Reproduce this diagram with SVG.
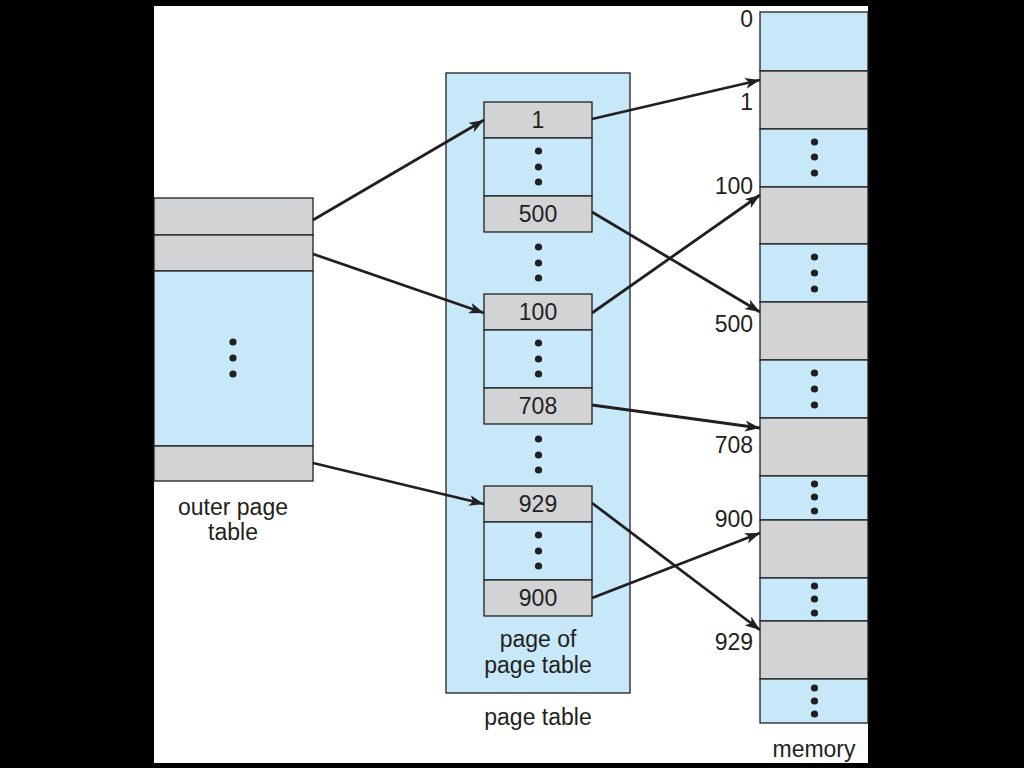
<svg xmlns="http://www.w3.org/2000/svg" width="1024" height="768" viewBox="0 0 1024 768">
<defs>
<style>
.blue{fill:#c7e8f8;stroke:#231f20;stroke-width:1.3}
.gray{fill:#d1d3d4;stroke:#231f20;stroke-width:1.3}
.t{font-family:"Liberation Sans",Arial,sans-serif;font-size:23px;fill:#231f20}
.c{text-anchor:middle}
.r{text-anchor:end}
.dot{fill:#231f20}
.conn line{stroke:#231f20;stroke-width:2.8;marker-end:url(#ah)}
</style>
<marker id="ah" markerUnits="userSpaceOnUse" markerWidth="18" markerHeight="12" refX="15" refY="5.5" orient="auto">
<path d="M0,0 L15,5.5 L0,11 L4,5.5 z" fill="#231f20"/>
</marker>
</defs>
<rect x="0" y="0" width="1024" height="768" fill="#000"/>
<rect x="154" y="6" width="714" height="757" fill="#fff"/>

<g id="outer-page-table">
<rect class="gray" x="154" y="198" width="159" height="37"/>
<rect class="gray" x="154" y="235" width="159" height="36"/>
<rect class="blue" x="154" y="271" width="159" height="175"/>
<rect class="gray" x="154" y="446" width="159" height="35"/>
<circle class="dot" cx="233" cy="342" r="3.6"/>
<circle class="dot" cx="233" cy="358" r="3.6"/>
<circle class="dot" cx="233" cy="374" r="3.6"/>
<text class="t c" x="233" y="515">outer page</text>
<text class="t c" x="233" y="540">table</text>
</g>

<g id="page-table">
<rect class="blue" x="446" y="73" width="184" height="620"/>
<text class="t c" x="538" y="725">page table</text>
</g>

<g id="page-of-page-table-1">
<rect class="gray" x="484" y="102" width="108" height="36"/>
<rect class="blue" x="484" y="138" width="108" height="58"/>
<rect class="gray" x="484" y="196" width="108" height="36"/>
<text class="t c" x="538" y="128">1</text>
<circle class="dot" cx="538.5" cy="151" r="3.6"/>
<circle class="dot" cx="538.5" cy="167" r="3.6"/>
<circle class="dot" cx="538.5" cy="182" r="3.6"/>
<text class="t c" x="538" y="222">500</text>
</g>
<g id="pt-dots-1">
<circle class="dot" cx="538.5" cy="247" r="3.6"/>
<circle class="dot" cx="538.5" cy="263" r="3.6"/>
<circle class="dot" cx="538.5" cy="278" r="3.6"/>
</g>

<g id="page-of-page-table-2">
<rect class="gray" x="484" y="294" width="108" height="36"/>
<rect class="blue" x="484" y="330" width="108" height="58"/>
<rect class="gray" x="484" y="388" width="108" height="36"/>
<text class="t c" x="538" y="320">100</text>
<circle class="dot" cx="538.5" cy="343" r="3.6"/>
<circle class="dot" cx="538.5" cy="359" r="3.6"/>
<circle class="dot" cx="538.5" cy="374" r="3.6"/>
<text class="t c" x="538" y="414">708</text>
</g>
<g id="pt-dots-2">
<circle class="dot" cx="538.5" cy="439" r="3.6"/>
<circle class="dot" cx="538.5" cy="455" r="3.6"/>
<circle class="dot" cx="538.5" cy="470" r="3.6"/>
</g>

<g id="page-of-page-table-3">
<rect class="gray" x="484" y="486" width="108" height="36"/>
<rect class="blue" x="484" y="522" width="108" height="58"/>
<rect class="gray" x="484" y="580" width="108" height="36"/>
<text class="t c" x="538" y="512">929</text>
<circle class="dot" cx="538.5" cy="535" r="3.6"/>
<circle class="dot" cx="538.5" cy="551" r="3.6"/>
<circle class="dot" cx="538.5" cy="566" r="3.6"/>
<text class="t c" x="538" y="606">900</text>
<text class="t c" x="538" y="647">page of</text>
<text class="t c" x="538" y="673">page table</text>
</g>

<g id="memory">
<rect class="blue" x="760" y="12" width="108" height="59"/>
<rect class="gray" x="760" y="71" width="108" height="58"/>
<rect class="blue" x="760" y="129" width="108" height="58"/>
<rect class="gray" x="760" y="187" width="108" height="57"/>
<rect class="blue" x="760" y="244" width="108" height="58"/>
<rect class="gray" x="760" y="302" width="108" height="58"/>
<rect class="blue" x="760" y="360" width="108" height="58"/>
<rect class="gray" x="760" y="418" width="108" height="58"/>
<rect class="blue" x="760" y="476" width="108" height="44"/>
<rect class="gray" x="760" y="520" width="108" height="58"/>
<rect class="blue" x="760" y="578" width="108" height="43"/>
<rect class="gray" x="760" y="621" width="108" height="58"/>
<rect class="blue" x="760" y="679" width="108" height="44"/>
<circle class="dot" cx="814.5" cy="142" r="3.6"/>
<circle class="dot" cx="814.5" cy="157" r="3.6"/>
<circle class="dot" cx="814.5" cy="173" r="3.6"/>
<circle class="dot" cx="814.5" cy="257" r="3.6"/>
<circle class="dot" cx="814.5" cy="273" r="3.6"/>
<circle class="dot" cx="814.5" cy="289" r="3.6"/>
<circle class="dot" cx="814.5" cy="373" r="3.6"/>
<circle class="dot" cx="814.5" cy="389" r="3.6"/>
<circle class="dot" cx="814.5" cy="405" r="3.6"/>
<circle class="dot" cx="814.5" cy="484" r="3.6"/>
<circle class="dot" cx="814.5" cy="497" r="3.6"/>
<circle class="dot" cx="814.5" cy="511" r="3.6"/>
<circle class="dot" cx="814.5" cy="586" r="3.6"/>
<circle class="dot" cx="814.5" cy="599" r="3.6"/>
<circle class="dot" cx="814.5" cy="613" r="3.6"/>
<circle class="dot" cx="814.5" cy="688" r="3.6"/>
<circle class="dot" cx="814.5" cy="701" r="3.6"/>
<circle class="dot" cx="814.5" cy="714" r="3.6"/>
<text class="t r" x="753" y="27">0</text>
<text class="t r" x="753" y="110">1</text>
<text class="t r" x="753" y="194">100</text>
<text class="t r" x="753" y="332">500</text>
<text class="t r" x="753" y="453">708</text>
<text class="t r" x="753" y="527">900</text>
<text class="t r" x="753" y="650">929</text>
<text class="t c" x="814" y="757">memory</text>
</g>

<g id="connectors" class="conn">
<line x1="313" y1="220" x2="484" y2="120"/>
<line x1="313" y1="254" x2="484" y2="313"/>
<line x1="313" y1="463" x2="484" y2="504"/>
<line x1="592" y1="119" x2="760" y2="80"/>
<line x1="592" y1="212" x2="760" y2="312"/>
<line x1="592" y1="313" x2="760" y2="195"/>
<line x1="592" y1="405" x2="760" y2="428"/>
<line x1="592" y1="503" x2="760" y2="630"/>
<line x1="592" y1="598" x2="760" y2="533"/>
</g>
</svg>
